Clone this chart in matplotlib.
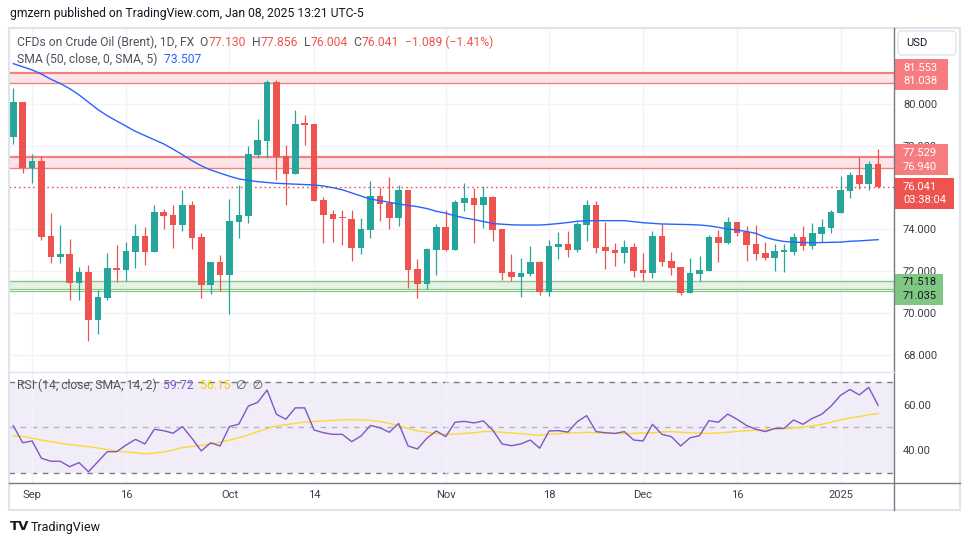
import numpy as np
import matplotlib.pyplot as plt
from matplotlib.patches import Rectangle, FancyBboxPatch
from matplotlib.transforms import blended_transform_factory

plt.rcParams['font.family'] = ['Roboto', 'DejaVu Sans']

# Brent CFD, daily bars from Aug 29 2024 to Jan 8 2025 (x = bar number)
opens = [78.45, 80.11, 76.96, 77.30, 73.68, 72.69, 72.82, 71.45, 71.96, 69.67,
         70.71, 72.15, 72.05, 72.93, 73.68, 72.93, 74.83, 74.69, 74.23, 75.17,
         73.63, 71.33, 72.44, 71.83, 74.37, 74.66, 77.58, 78.26, 81.07, 77.54,
         76.67, 79.05, 79.05, 75.41, 74.74, 74.55, 74.50, 73.12, 73.97, 75.60,
         75.27, 74.55, 75.89, 72.10, 71.38, 73.01, 74.11, 73.01, 75.27, 75.51,
         75.17, 75.55, 74.02, 71.96, 71.72, 71.86, 72.44, 71.01, 73.16, 73.30,
         73.01, 74.21, 75.17, 73.16, 73.01, 72.87, 73.16, 72.05, 71.91, 73.68,
         72.49, 72.20, 70.95, 71.86, 72.00, 73.63, 73.35, 74.35, 73.88, 73.30,
         72.87, 72.63, 72.94, 72.92, 73.63, 73.20, 73.78, 74.07, 74.79, 75.84,
         76.61, 76.18, 77.130]
highs = [80.80, 80.11, 77.62, 77.54, 74.77, 74.21, 73.54, 72.21, 72.29, 71.09,
         72.88, 73.25, 73.40, 74.26, 74.11, 75.17, 74.98, 75.17, 75.89, 75.36,
         73.81, 72.44, 72.77, 75.46, 76.13, 78.00, 79.29, 81.17, 81.17, 78.05,
         79.73, 79.49, 79.05, 75.57, 74.93, 74.93, 74.93, 74.55, 76.32, 76.03,
         76.51, 76.13, 75.89, 72.58, 73.11, 74.26, 74.93, 75.41, 76.23, 75.99,
         76.08, 75.60, 74.02, 72.82, 72.63, 73.20, 72.49, 73.49, 73.88, 73.92,
         74.35, 75.41, 75.36, 74.35, 73.35, 73.49, 73.35, 72.87, 73.92, 74.26,
         72.92, 72.20, 72.63, 72.72, 73.73, 73.97, 74.59, 74.35, 74.16, 74.21,
         73.40, 73.30, 73.30, 73.83, 74.16, 74.31, 74.50, 74.93, 76.56, 76.75,
         77.47, 77.28, 77.856]
lows = [78.11, 76.72, 76.24, 73.49, 72.37, 72.40, 70.61, 70.61, 68.66, 68.98,
        70.61, 71.49, 71.52, 72.16, 72.29, 72.93, 74.02, 73.12, 73.94, 73.06,
        70.71, 70.92, 71.06, 69.93, 73.60, 74.32, 77.41, 77.41, 76.37, 75.17,
        76.67, 78.05, 75.38, 73.36, 73.40, 73.25, 72.50, 72.84, 73.60, 74.40,
        74.02, 74.16, 71.19, 70.71, 71.14, 71.81, 72.96, 73.01, 74.88, 73.35,
        74.07, 73.44, 71.57, 71.52, 70.76, 71.77, 70.85, 70.81, 72.58, 72.68,
        72.92, 73.44, 72.87, 72.10, 72.25, 72.39, 71.72, 71.52, 71.67, 72.25,
        71.81, 70.85, 70.95, 71.52, 72.00, 72.44, 73.30, 73.68, 72.48, 72.53,
        72.53, 72.00, 71.96, 72.77, 73.01, 73.06, 73.40, 73.83, 74.79, 75.51,
        75.94, 75.89, 76.004]
closes = [80.11, 76.96, 77.30, 73.65, 72.69, 72.82, 71.45, 71.96, 69.67, 70.76,
          72.15, 72.05, 72.96, 73.68, 72.93, 74.83, 74.66, 74.23, 75.17, 73.60,
          71.33, 72.44, 71.83, 74.40, 74.69, 77.62, 78.29, 81.07, 77.49, 76.67,
          79.05, 79.03, 75.38, 74.69, 74.50, 74.53, 73.12, 74.02, 75.60, 75.22,
          74.55, 75.89, 72.05, 71.38, 73.06, 74.11, 73.01, 75.31, 75.51, 75.17,
          75.55, 73.97, 71.91, 71.72, 71.91, 72.44, 71.01, 73.20, 73.30, 73.01,
          74.26, 75.17, 73.11, 72.96, 72.87, 73.16, 72.00, 71.91, 73.68, 72.44,
          72.15, 70.95, 71.91, 72.05, 73.63, 73.35, 74.35, 73.83, 73.25, 72.82,
          72.63, 72.96, 72.97, 73.63, 73.20, 73.83, 74.11, 74.83, 75.89, 76.61,
          76.18, 77.130, 76.041]
sma50 = [81.95, 81.80, 81.65, 81.45, 81.20, 81.00, 80.75, 80.45, 80.10, 79.75,
         79.45, 79.20, 78.95, 78.70, 78.50, 78.30, 78.10, 77.85, 77.58, 77.30,
         77.05, 76.85, 76.70, 76.55, 76.42, 76.35, 76.29, 76.25, 76.21, 76.19,
         76.17, 76.15, 76.13, 76.08, 76.00, 75.90, 75.75, 75.60, 75.45, 75.38,
         75.30, 75.22, 75.15, 75.09, 75.00, 74.87, 74.78, 74.65, 74.55, 74.47,
         74.38, 74.28, 74.25, 74.22, 74.21, 74.21, 74.21, 74.24, 74.28, 74.33,
         74.39, 74.41, 74.42, 74.42, 74.42, 74.42, 74.37, 74.32, 74.29, 74.26,
         74.25, 74.24, 74.23, 74.21, 74.17, 74.10, 74.02, 73.97, 73.90, 73.81,
         73.62, 73.50, 73.42, 73.39, 73.37, 73.36, 73.37, 73.38, 73.39, 73.43,
         73.45, 73.48, 73.507]
rsi = [50.8, 43.3, 44.1, 36.5, 35.2, 35.2, 32.8, 34.6, 30.6, 35.0,
       39.4, 39.4, 42.3, 44.8, 42.8, 49.2, 48.6, 47.5, 50.4, 45.3,
       39.7, 43.3, 41.9, 50.4, 51.5, 59.4, 61.0, 66.4, 55.8, 53.6,
       58.6, 58.6, 48.9, 47.7, 47.0, 47.0, 43.8, 46.3, 50.9, 49.9,
       47.9, 51.8, 41.9, 40.6, 45.3, 48.5, 46.0, 52.3, 52.7, 52.0,
       52.9, 48.9, 42.8, 42.0, 42.8, 44.5, 40.9, 48.5, 48.6, 48.0,
       52.6, 55.2, 48.2, 47.7, 47.4, 48.2, 44.5, 44.1, 51.4, 47.0,
       46.0, 41.9, 45.5, 46.4, 53.0, 52.3, 55.9, 53.6, 50.9, 49.2,
       48.2, 49.6, 49.6, 53.3, 51.4, 54.0, 55.8, 59.4, 64.1, 66.7,
       64.3, 67.6, 59.72]
rsi_ma = [46.4, 46.1, 45.3, 44.5, 43.8, 43.1, 42.5, 42.0, 41.6, 41.0,
          40.4, 39.7, 39.3, 39.0, 38.4, 38.8, 39.3, 40.1, 41.2, 41.7,
          42.2, 42.8, 43.5, 44.5, 45.5, 46.7, 48.2, 49.5, 50.7, 51.2,
          51.8, 52.4, 52.6, 52.9, 53.1, 53.3, 53.4, 53.3, 53.1, 52.6,
          51.8, 50.7, 49.5, 48.6, 47.9, 47.3, 47.0, 47.1, 47.4, 47.7,
          48.2, 48.3, 47.9, 47.6, 47.3, 46.9, 46.6, 47.0, 47.3, 47.6,
          47.7, 47.9, 47.7, 47.6, 47.4, 47.3, 47.4, 47.6, 47.7, 48.0,
          48.2, 47.9, 47.7, 47.6, 47.4, 47.6, 47.9, 48.3, 48.6, 48.8,
          49.0, 49.3, 49.5, 49.8, 50.1, 50.7, 51.4, 52.3, 53.3, 54.2,
          54.8, 55.6, 56.15]

tick_pos = [2, 12, 23, 32, 46, 57, 67, 77, 88]
tick_lbl = ['Sep', '16', 'Oct', '14', 'Nov', '18', 'Dec', '16', '2025']
price_ticks = [68, 70, 72, 74, 78, 80]   # 76.000 sits under the last-price tag
rsi_ticks = [40, 60]

# drawn zones (rectangles) and horizontal levels
zone_lo = [81.038, 76.940, 71.130]
zone_hi = [81.487, 77.470, 71.518]
zone_kind = ['res', 'res', 'sup']
levels = [81.553, 81.038, 77.529, 76.940, 71.518, 71.035]
level_kind = ['res', 'res', 'res', 'res', 'sup', 'sup']

GREEN = '#26a69a'
RED = '#ef5350'
BLUE = '#2962ff'
PURPLE = '#7e57c2'
YELLOW = '#fdd835'
GRID = '#f0f3fa'
TXT = '#131722'
LEG = '#50535e'
AXLINE = '#787b86'
zone_fill = {'res': '#fde4e6', 'sup': '#e3f2e2'}
zone_edge = {'res': '#f47f83', 'sup': '#86c789'}

W, H = 970, 545
fig = plt.figure(figsize=(W / 100, H / 100), dpi=100)


def box(l, t, r, b):
    return [l / W, 1 - b / H, (r - l) / W, (b - t) / H]


ax = fig.add_axes(box(9.5, 27.5, 894, 371.5))
ax2 = fig.add_axes(box(9.5, 371.5, 894, 482.7), sharex=ax)

x = np.arange(len(opens))
o, hi, lo, c = map(np.array, (opens, highs, lows, closes))
col = np.where(c >= o, GREEN, RED)

# zones + levels
for a, b, k in zip(zone_lo, zone_hi, zone_kind):
    ax.axhspan(a, b, facecolor=zone_fill[k], edgecolor=zone_edge[k], lw=0.8, zorder=1)
for v, k in zip(levels, level_kind):
    ax.axhline(v, color=zone_edge[k], lw=0.9, zorder=1.5)

# last price line
ax.axhline(closes[-1], color=RED, lw=1, ls=(0, (1.2, 2.2)), zorder=2)

# candles
ax.vlines(x, lo, hi, colors=col, lw=0.9, zorder=3)
ax.bar(x, np.maximum(np.abs(c - o), 0.05), bottom=np.minimum(o, c), width=0.7,
       color=col, linewidth=0, zorder=4)
ax.plot(x, sma50, color=BLUE, lw=1, zorder=5)

ax.set_xlim(-0.40, 93.69)
ax.set_ylim(67.185, 83.683)
ax.set_yticks(price_ticks)
ax.yaxis.set_major_formatter(plt.FormatStrFormatter('%.3f'))
ax.yaxis.tick_right()
ax.set_xticks(tick_pos)
ax.tick_params(axis='x', length=0, labelbottom=False)
ax.tick_params(axis='y', length=0, pad=6.5, labelsize=8, labelcolor='#3c3f4a')
ax.grid(color=GRID, lw=1, zorder=0)
ax.set_axisbelow(True)
for s in ax.spines.values():
    s.set_visible(False)

# RSI pane
ax2.axhspan(30, 70, color=PURPLE, alpha=0.1, lw=0, zorder=0.5)
ax2.axhline(70, color=AXLINE, lw=1, ls=(0, (4, 4)), zorder=1)
ax2.axhline(30, color=AXLINE, lw=1, ls=(0, (4, 4)), zorder=1)
ax2.axhline(50, color=AXLINE, lw=1, ls=(0, (4, 4)), alpha=0.5, zorder=1)
ax2.plot(x, rsi_ma, color=YELLOW, lw=1, zorder=3)
ax2.plot(x, rsi, color=PURPLE, lw=1, zorder=4)
ax2.set_ylim(25.79, 74.56)
ax2.set_yticks(rsi_ticks)
ax2.yaxis.set_major_formatter(plt.FormatStrFormatter('%.2f'))
ax2.yaxis.tick_right()
ax2.set_xticks(tick_pos, tick_lbl)
ax2.tick_params(axis='x', length=0, pad=5, labelsize=8, labelcolor='#3c3f4a')
ax2.tick_params(axis='y', length=0, pad=6.5, labelsize=8, labelcolor='#3c3f4a')
ax2.grid(color=GRID, lw=1, zorder=0.8)
for s in ax2.spines.values():
    s.set_visible(False)

# price scale tags
trans = blended_transform_factory(ax.transAxes, ax.transData)
ppu = (371.5 - 27.5) / (83.683 - 67.185)
tags = [([f'{levels[0]:.3f}', f'{levels[1]:.3f}'], 81.43, '#f77c80', 'white', 53),
        ([f'{levels[2]:.3f}', f'{levels[3]:.3f}'], 77.33, '#f77c80', 'white', 53),
        ([f'{closes[-1]:.3f}', '03:38:04'], 75.73, RED, 'white', 59),
        ([f'{levels[4]:.3f}', f'{levels[5]:.3f}'], 71.14, '#81c784', TXT, 48)]
for lines, yc, fc, tc, wpx in tags:
    h = 31 / ppu
    ax.add_patch(Rectangle((1 + 1 / 884, yc - h / 2), wpx / 884, h, transform=trans,
                           facecolor=fc, edgecolor='none', clip_on=False, zorder=6))
    ax.text(1 + 9 / 884, yc, '\n'.join(lines), transform=trans, va='center', ha='left',
            fontsize=8, color=tc, linespacing=1.45, clip_on=False, zorder=7)

# overlay in pixel coordinates: frame, legends, logo
ov = fig.add_axes([0, 0, 1, 1])
ov.set_xlim(0, W)
ov.set_ylim(H, 0)
ov.axis('off')
ov.add_patch(Rectangle((9, 27.5), 951, 482.5, fill=False, edgecolor='#e0e3eb', lw=1.5))
ov.plot([894, 894], [27.5, 510], color=AXLINE, lw=1)
ov.plot([9, 960], [482.7, 482.7], color=AXLINE, lw=1)
ov.plot([9, 894], [371.5, 371.5], color='#e0e3eb', lw=1)
ov.add_patch(FancyBboxPatch((898, 31), 58, 24, boxstyle='round,pad=0,rounding_size=4',
                            facecolor='white', edgecolor='#e0e3eb', lw=1))
ov.text(906, 43.5, 'USD', fontsize=8, color=TXT, va='center')


def rich(x0, y0, parts, size=8.7):
    t = ov.text(x0, y0, parts[0][0], color=parts[0][1], fontsize=size, va='center')
    for s, cc in parts[1:]:
        t = ov.annotate(s, xy=(1, 0), xycoords=t, va='bottom', color=cc, fontsize=size)
    return t


chg = closes[-1] - closes[-2]
pct = chg / closes[-2] * 100
rich(10, 14, [('gmzern published on TradingView.com, Jan 08, 2025 13:21 UTC-5', TXT)], 8.7)
rich(17, 42, [('CFDs on Crude Oil (Brent), 1D, FX', LEG),
              ('  O', LEG), (f'{opens[-1]:.3f}', RED),
              ('  H', LEG), (f'{highs[-1]:.3f}', RED),
              ('  L', LEG), (f'{lows[-1]:.3f}', RED),
              ('  C', LEG), (f'{closes[-1]:.3f}', RED),
              (f'  \u2212{abs(chg):.3f} (\u2212{abs(pct):.2f}%)', RED)])
rich(17, 59, [('SMA (50, close, 0, SMA, 5)', LEG), (f'  {sma50[-1]:.3f}', BLUE)])
rich(17, 385, [('RSI (14, close, SMA, 14, 2)', LEG), (f'  {rsi[-1]:.2f}', PURPLE),
               (f'  {rsi_ma[-1]:.2f}', '#f5d000'), ('  \u2205  \u2205', LEG)])

ov.text(10, 527, 'TV', fontsize=9.5, fontweight='black', color=TXT, va='center',
        family='DejaVu Sans')
ov.text(31, 527, 'TradingView', fontsize=9, color=TXT, va='center')

fig.savefig('out.png', dpi=100)
